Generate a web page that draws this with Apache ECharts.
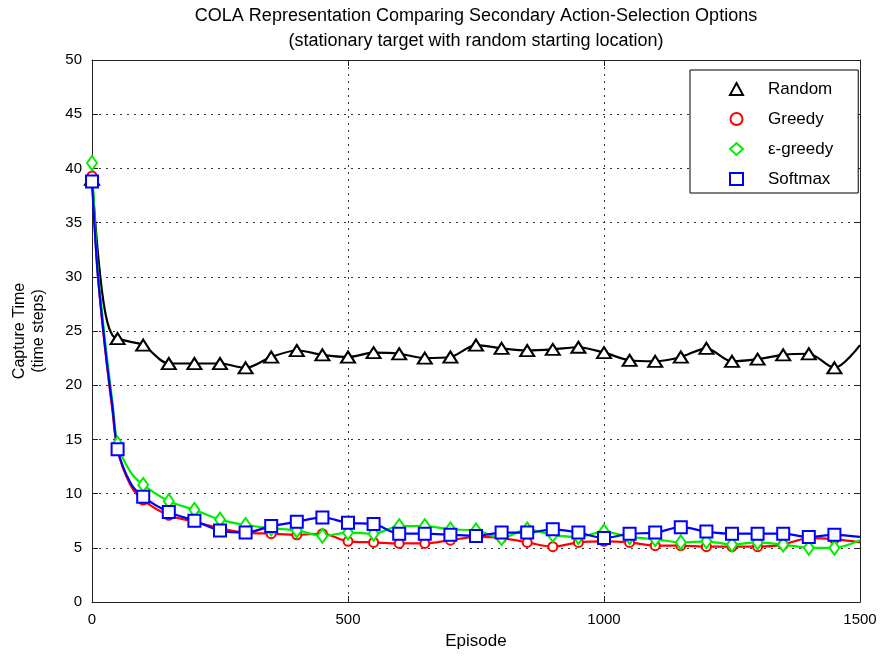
<!DOCTYPE html>
<html>
<head>
<meta charset="utf-8">
<script src="https://cdn.jsdelivr.net/npm/echarts@6/dist/echarts.min.js"></script>
<style>html,body{margin:0;padding:0;background:#fff}#c{width:881px;height:658px}</style>
</head>
<body>
<div id="c"></div>
<script>
// Episodes at which values were read (markers every 50, plus a few early points)
const episodes = [0,10,20,30,40,50,75,100,150,200,250,300,350,400,450,500,550,600,650,700,750,800,850,900,950,1000,1050,1100,1150,1200,1250,1300,1350,1400,1450,1500];
const randomVals = [39,33,28.5,25.8,24.6,24.3,24.0,23.7,22.0,22.0,22.0,21.6,22.6,23.2,22.8,22.6,23.0,22.9,22.5,22.6,23.7,23.4,23.2,23.3,23.5,23.0,22.3,22.2,22.6,23.4,22.2,22.4,22.8,22.9,21.6,23.7];
const greedyVals = [39.3,31,25.8,21.5,17.6,14.0,10.8,9.4,8.0,7.4,6.8,6.4,6.3,6.2,6.3,5.6,5.5,5.4,5.4,5.7,6.0,5.9,5.5,5.1,5.5,5.6,5.5,5.2,5.2,5.1,5.1,5.1,5.3,5.9,5.8,5.5];
const egreedyVals = [40.5,31.5,26.5,22.2,18.4,14.6,12.0,10.8,9.3,8.5,7.6,7.1,6.8,6.6,6.1,6.4,6.3,7.0,7.0,6.7,6.6,5.9,6.7,6.2,6.0,6.5,6.0,5.8,5.5,5.6,5.3,5.5,5.3,5.0,5.0,5.7];
const softmaxVals = [38.8,31,26,21.7,18,14.1,11.0,9.7,8.3,7.5,6.6,6.4,7.0,7.4,7.8,7.3,7.2,6.3,6.3,6.2,6.1,6.4,6.4,6.7,6.4,5.9,6.3,6.4,6.9,6.5,6.3,6.3,6.3,6.0,6.2,6.0];
const seriesNames = ['Random','Greedy','\u03b5-greedy','Softmax'];
const xTicks = [0,500,1000,1500];
const yTicks = [0,5,10,15,20,25,30,35,40,45,50];

const FONT = 'Liberation Sans, Arial, sans-serif';
const chart = echarts.init(document.getElementById('c'), null, {renderer:'canvas'});
function pts(vals){ return episodes.map((e,i)=>[e, vals[i]]); }
function markerFn(sym){ return function(v){ return (v[0] % 50 === 0 && v[0] < 1500) ? sym : 'none'; }; }
function mk(name, vals, color, sym, size){
  return {
    name: name, type:'line', data: pts(vals), smooth: 0.3,
    symbol: markerFn(sym), symbolSize: size, showSymbol: true, showAllSymbol: true,
    lineStyle: {color: color, width: 2.2},
    itemStyle: {color: '#fff', borderColor: color, borderWidth: 2},
    emphasis: {disabled: true}, animation: false, z: 2
  };
}
const colors = ['#000000','#ff0000','#00ee00','#0000ff'];
const syms = ['triangle','circle','diamond','rect'];
const sizes = [[14,11],9,[10,14],12];
const tickSet = new Set(xTicks);
const yTickSet = new Set(yTicks);
const option = {
  backgroundColor: '#fff',
  animation: false,
  title: {
    text: 'COLA Representation Comparing Secondary Action-Selection Options\n(stationary target with random starting location)',
    left: 476, top: 4, textAlign: 'center', padding: 0,
    textStyle: {fontFamily: FONT, fontSize: 18, fontWeight: 'normal', color: '#000', lineHeight: 25}
  },
  legend: {
    left: 690, top: 70, orient: 'vertical',
    padding: [10, 25, 5, 39],
    itemWidth: 13, itemHeight: 12, itemGap: 12,
    backgroundColor: '#fff', borderColor: '#000', borderWidth: 1,
    textStyle: {fontFamily: FONT, fontSize: 17, color: '#000', lineHeight: 18, padding: [0,0,0,20]},
    data: seriesNames.map((n,i)=>({name: n, icon: syms[i], itemStyle: {color:'#fff', borderColor: colors[i], borderWidth: 2}}))
  },
  grid: {left: 92, right: 21, top: 60, bottom: 56},
  xAxis: [{
    type: 'value', min: 0, max: 1500, interval: 500,
    name: 'Episode', nameLocation: 'middle', nameGap: 31,
    nameTextStyle: {fontFamily: FONT, fontSize: 17, color: '#000'},
    axisLine: {onZero: false, lineStyle: {color: '#222', width: 1}},
    axisTick: {inside: true, length: 6, lineStyle: {color: '#222'}},
    axisLabel: {fontFamily: FONT, fontSize: 15, color: '#000', margin: 10, formatter: v => tickSet.has(v) ? String(v) : ''},
    splitLine: {show: true, lineStyle: {color: '#333', type: [2,5], width: 1}}
  },{
    type: 'value', min: 0, max: 1500, interval: 500, position: 'top',
    axisLine: {onZero: false, lineStyle: {color: '#222', width: 1}},
    axisTick: {inside: true, length: 6, lineStyle: {color: '#222'}},
    axisLabel: {show: false}, splitLine: {show: false}
  }],
  yAxis: [{
    type: 'value', min: 0, max: 50, interval: 5,
    name: 'Capture Time\n(time steps)', nameLocation: 'middle', nameGap: 44, nameRotate: 90,
    nameTextStyle: {fontFamily: FONT, fontSize: 16, color: '#000', lineHeight: 19},
    axisLine: {onZero: false, lineStyle: {color: '#222', width: 1}},
    axisTick: {inside: true, length: 6, lineStyle: {color: '#222'}},
    axisLabel: {fontFamily: FONT, fontSize: 15, color: '#000', margin: 10, formatter: v => yTickSet.has(v) ? String(v) : ''},
    splitLine: {show: true, lineStyle: {color: '#333', type: [2,5], width: 1}}
  },{
    type: 'value', min: 0, max: 50, interval: 5, position: 'right',
    axisLine: {onZero: false, lineStyle: {color: '#222', width: 1}},
    axisTick: {inside: true, length: 6, lineStyle: {color: '#222'}},
    axisLabel: {show: false}, splitLine: {show: false}
  }],
  series: [
    mk(seriesNames[0], randomVals, colors[0], syms[0], sizes[0]),
    mk(seriesNames[1], greedyVals, colors[1], syms[1], sizes[1]),
    mk(seriesNames[2], egreedyVals, colors[2], syms[2], sizes[2]),
    mk(seriesNames[3], softmaxVals, colors[3], syms[3], sizes[3])
  ]
};
chart.setOption(option);
</script>
</body>
</html>
